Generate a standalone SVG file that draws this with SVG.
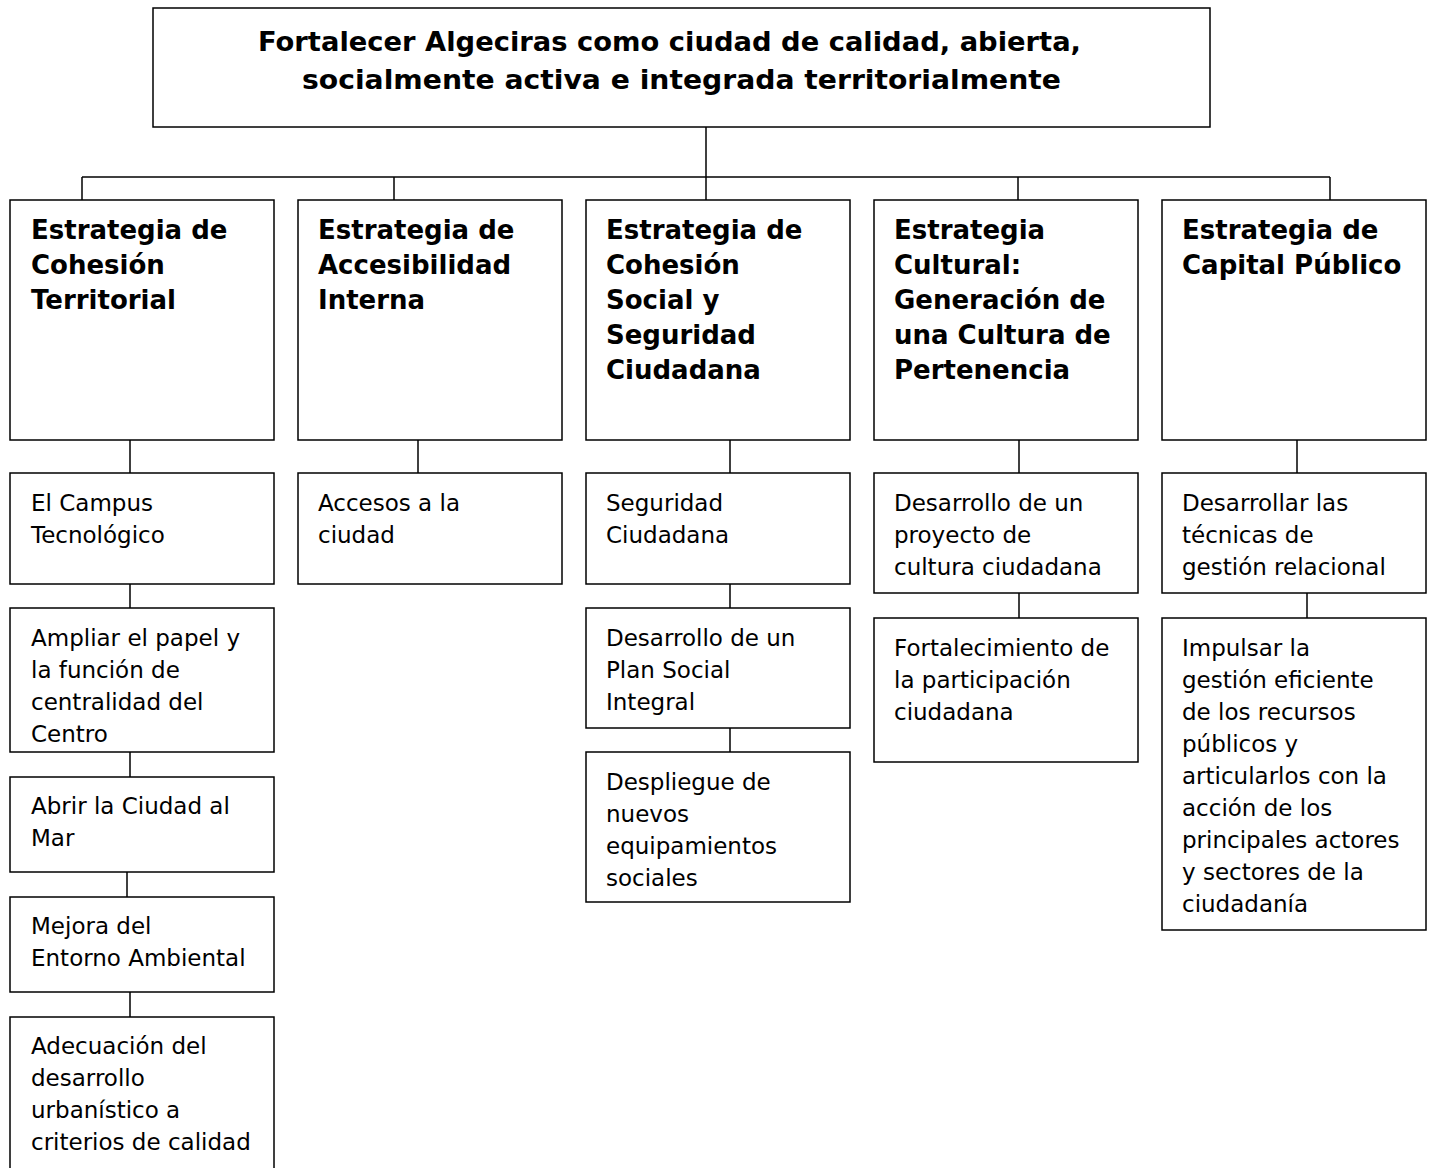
<svg xmlns="http://www.w3.org/2000/svg" width="1431" height="1168" viewBox="0 0 1431 1168">
<style>
rect{fill:#fff;stroke:#000;stroke-width:1.5}
#connectors line{stroke:#000;stroke-width:1.5}
text{font-family:"DejaVu Sans","Liberation Sans",sans-serif;fill:#000}
.t{font-size:27px;font-weight:bold}
.b{font-size:26px;font-weight:bold}
.r{font-size:23px}
</style>
<defs>
<clipPath id="clipCentro"><rect x="10" y="608" width="264" height="134"/></clipPath>
</defs>
<rect x="0" y="0" width="1431" height="1168" style="stroke:none;fill:#fff"/>
<g id="connectors">
<line x1="706" y1="127" x2="706" y2="177"/>
<line x1="82" y1="177" x2="1330" y2="177"/>
<line x1="82" y1="177" x2="82" y2="200"/>
<line x1="394" y1="177" x2="394" y2="200"/>
<line x1="706" y1="177" x2="706" y2="200"/>
<line x1="1018" y1="177" x2="1018" y2="200"/>
<line x1="1330" y1="177" x2="1330" y2="200"/>
<line x1="130" y1="440" x2="130" y2="473"/>
<line x1="130" y1="584" x2="130" y2="608"/>
<line x1="130" y1="752" x2="130" y2="777"/>
<line x1="127" y1="872" x2="127" y2="897"/>
<line x1="130" y1="992" x2="130" y2="1017"/>
<line x1="418" y1="440" x2="418" y2="473"/>
<line x1="730" y1="440" x2="730" y2="473"/>
<line x1="730" y1="584" x2="730" y2="608"/>
<line x1="730" y1="728" x2="730" y2="752"/>
<line x1="1019" y1="440" x2="1019" y2="473"/>
<line x1="1019" y1="593" x2="1019" y2="618"/>
<line x1="1297" y1="440" x2="1297" y2="473"/>
<line x1="1307" y1="593" x2="1307" y2="618"/>
</g>
<g id="root">
<rect x="153" y="8" width="1057" height="119"/>
<text class="t" x="258" y="51" textLength="823" lengthAdjust="spacingAndGlyphs">Fortalecer Algeciras como ciudad de calidad, abierta,</text>
<text class="t" x="302" y="89" textLength="759" lengthAdjust="spacingAndGlyphs">socialmente activa e integrada territorialmente</text>
</g>
<g id="s1">
<rect x="10" y="200" width="264" height="240"/>
<text class="b" x="31" y="239">Estrategia de</text>
<text class="b" x="31" y="274">Cohesión</text>
<text class="b" x="31" y="309">Territorial</text>
</g>
<g id="s2">
<rect x="298" y="200" width="264" height="240"/>
<text class="b" x="318" y="239">Estrategia de</text>
<text class="b" x="318" y="274">Accesibilidad</text>
<text class="b" x="318" y="309">Interna</text>
</g>
<g id="s3">
<rect x="586" y="200" width="264" height="240"/>
<text class="b" x="606" y="239">Estrategia de</text>
<text class="b" x="606" y="274">Cohesión</text>
<text class="b" x="606" y="309">Social y</text>
<text class="b" x="606" y="344">Seguridad</text>
<text class="b" x="606" y="379">Ciudadana</text>
</g>
<g id="s4">
<rect x="874" y="200" width="264" height="240"/>
<text class="b" x="894" y="239">Estrategia</text>
<text class="b" x="894" y="274">Cultural:</text>
<text class="b" x="894" y="309">Generación de</text>
<text class="b" x="894" y="344">una Cultura de</text>
<text class="b" x="894" y="379">Pertenencia</text>
</g>
<g id="s5">
<rect x="1162" y="200" width="264" height="240"/>
<text class="b" x="1182" y="239">Estrategia de</text>
<text class="b" x="1182" y="274">Capital Público</text>
</g>
<g id="n1a">
<rect x="10" y="473" width="264" height="111"/>
<text class="r" x="31" y="511">El Campus</text>
<text class="r" x="31" y="543">Tecnológico</text>
</g>
<g id="n1b">
<rect x="10" y="608" width="264" height="144"/>
<g clip-path="url(#clipCentro)">
<text class="r" x="31" y="646">Ampliar el papel y</text>
<text class="r" x="31" y="678">la función de</text>
<text class="r" x="31" y="710">centralidad del</text>
<text class="r" x="31" y="742">Centro</text>
</g>
</g>
<g id="n1c">
<rect x="10" y="777" width="264" height="95"/>
<text class="r" x="31" y="814">Abrir la Ciudad al</text>
<text class="r" x="31" y="846">Mar</text>
</g>
<g id="n1d">
<rect x="10" y="897" width="264" height="95"/>
<text class="r" x="31" y="934">Mejora del</text>
<text class="r" x="31" y="966">Entorno Ambiental</text>
</g>
<g id="n1e">
<rect x="10" y="1017" width="264" height="170"/>
<text class="r" x="31" y="1054">Adecuación del</text>
<text class="r" x="31" y="1086">desarrollo</text>
<text class="r" x="31" y="1118">urbanístico a</text>
<text class="r" x="31" y="1150">criterios de calidad</text>
</g>
<g id="n2a">
<rect x="298" y="473" width="264" height="111"/>
<text class="r" x="318" y="511">Accesos a la</text>
<text class="r" x="318" y="543">ciudad</text>
</g>
<g id="n3a">
<rect x="586" y="473" width="264" height="111"/>
<text class="r" x="606" y="511">Seguridad</text>
<text class="r" x="606" y="543">Ciudadana</text>
</g>
<g id="n3b">
<rect x="586" y="608" width="264" height="120"/>
<text class="r" x="606" y="646">Desarrollo de un</text>
<text class="r" x="606" y="678">Plan Social</text>
<text class="r" x="606" y="710">Integral</text>
</g>
<g id="n3c">
<rect x="586" y="752" width="264" height="150"/>
<text class="r" x="606" y="790">Despliegue de</text>
<text class="r" x="606" y="822">nuevos</text>
<text class="r" x="606" y="854">equipamientos</text>
<text class="r" x="606" y="886">sociales</text>
</g>
<g id="n4a">
<rect x="874" y="473" width="264" height="120"/>
<text class="r" x="894" y="511">Desarrollo de un</text>
<text class="r" x="894" y="543">proyecto de</text>
<text class="r" x="894" y="575">cultura ciudadana</text>
</g>
<g id="n4b">
<rect x="874" y="618" width="264" height="144"/>
<text class="r" x="894" y="656">Fortalecimiento de</text>
<text class="r" x="894" y="688">la participación</text>
<text class="r" x="894" y="720">ciudadana</text>
</g>
<g id="n5a">
<rect x="1162" y="473" width="264" height="120"/>
<text class="r" x="1182" y="511">Desarrollar las</text>
<text class="r" x="1182" y="543">técnicas de</text>
<text class="r" x="1182" y="575">gestión relacional</text>
</g>
<g id="n5b">
<rect x="1162" y="618" width="264" height="312"/>
<text class="r" x="1182" y="656">Impulsar la</text>
<text class="r" x="1182" y="688">gestión eficiente</text>
<text class="r" x="1182" y="720">de los recursos</text>
<text class="r" x="1182" y="752">públicos y</text>
<text class="r" x="1182" y="784">articularlos con la</text>
<text class="r" x="1182" y="816">acción de los</text>
<text class="r" x="1182" y="848">principales actores</text>
<text class="r" x="1182" y="880">y sectores de la</text>
<text class="r" x="1182" y="912">ciudadanía</text>
</g>
</svg>
